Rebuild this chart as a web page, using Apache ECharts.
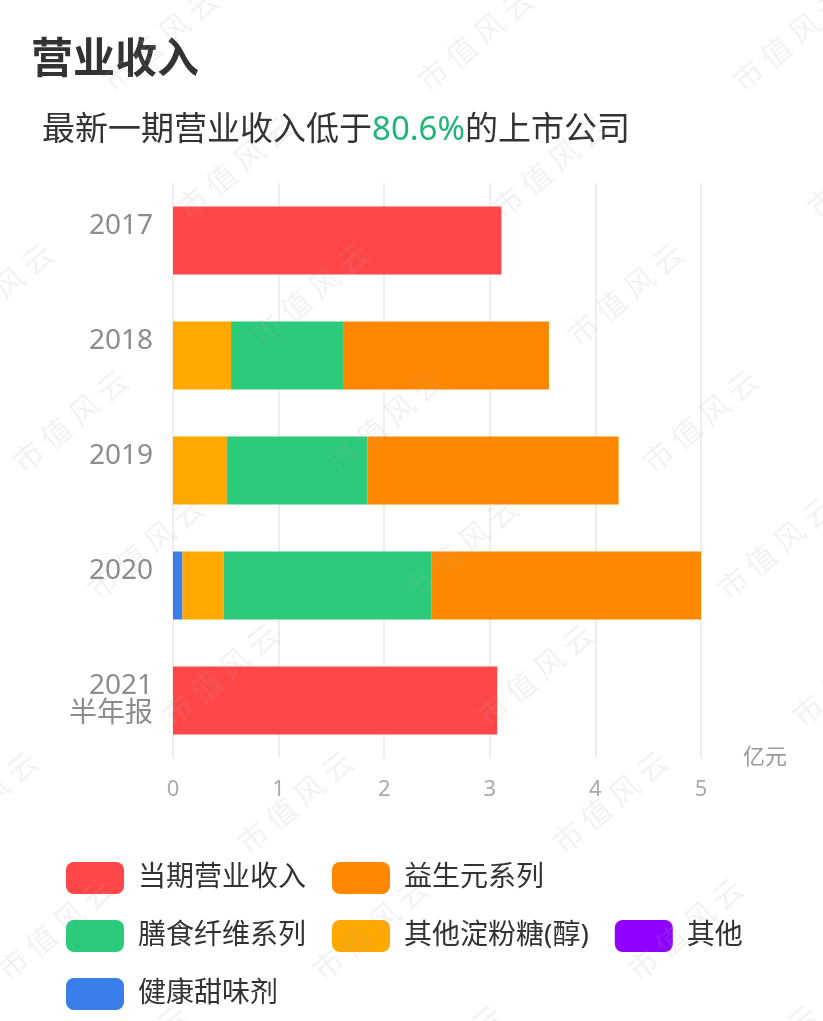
<!DOCTYPE html>
<html>
<head>
<meta charset="utf-8">
<script src="https://cdn.jsdelivr.net/npm/echarts@6/dist/echarts.min.js"></script>
<style>
  html, body { margin: 0; padding: 0; background: #fff; }
  #chart { width: 823px; height: 1021px; }
</style>
</head>
<body>
<div id="chart"></div>
<script>
  // 年份（纵轴分类）
  const years = ['2017', '2018', '2019', '2020', '2021\n半年报']
  // 各系列数值，单位：亿元
  const revenue = [3.11, '-', '-', '-', 3.07]        // 当期营业收入
  const sweetener = ['-', '-', '-', 0.09, '-']       // 健康甜味剂
  const others = ['-', '-', '-', '-', '-']           // 其他
  const starchSugar = ['-', 0.55, 0.51, 0.39, '-']   // 其他淀粉糖(醇)
  const fiber = ['-', 1.06, 1.33, 1.97, '-']         // 膳食纤维系列
  const prebiotic = ['-', 1.95, 2.38, 2.55, '-']     // 益生元系列
  const xTicks = [0, 1, 2, 3, 4, 5]

  const legendOrder = ['当期营业收入', '益生元系列', '膳食纤维系列', '其他淀粉糖(醇)', '其他', '健康甜味剂']
  const font = '"Noto Sans", "Noto Sans CJK SC", sans-serif'

  const chart = echarts.init(document.getElementById('chart'))

  // 水印 “市值风云”
  const marks = []
  for (let row = 0; row < 9; row++) {
    for (let col = -2; col < 4; col++) {
      const x = 160 + 75 * row + 315 * col
      if (x < -120 || x > 950) continue
      marks.push({
        type: 'text',
        x, y: 40 + 127 * row,
        rotation: 40 * Math.PI / 180,
        z: 100,
        silent: true,
        style: {
          text: '市 值 风 云',
          fill: 'rgba(170,170,170,0.15)',
          font: '30px "Noto Sans CJK SC"',
          align: 'center',
          verticalAlign: 'middle'
        }
      })
    }
  }

  const bar = (name, data, color) => ({
    name, data, type: 'bar', stack: 'total', barWidth: 68,
    itemStyle: { color },
    emphasis: { disabled: true }
  })

  chart.setOption({
    animation: false,
    textStyle: { fontFamily: font },
    title: [
      {
        text: '营业收入', left: 31, top: 40, padding: 0,
        textStyle: { fontSize: 42, fontWeight: 'bold', color: '#333', lineHeight: 42, fontFamily: font }
      },
      {
        text: '{a|最新一期营业收入低于}{b|80.6%}{a|的上市公司}', left: 42, top: 114, padding: 0,
        textStyle: {
          fontFamily: font, fontWeight: 'normal',
          rich: {
            a: { fontSize: 33, color: '#333', lineHeight: 34, fontWeight: 'normal', fontFamily: font },
            b: { fontSize: 33, color: '#1db578', lineHeight: 34, fontWeight: 'normal', fontFamily: font }
          }
        }
      }
    ],
    grid: { left: 173, right: 122, top: 183, bottom: 263, containLabel: false },
    legend: {
      data: legendOrder,
      left: 66, top: 862, width: 700, padding: 0,
      itemWidth: 58, itemHeight: 32, itemGap: 26,
      icon: 'path://M8,0 H50 A8,8 0 0 1 58,8 V24 A8,8 0 0 1 50,32 H8 A8,8 0 0 1 0,24 V8 A8,8 0 0 1 8,0 Z',
      selectedMode: false,
      textStyle: { fontSize: 28, color: '#333', padding: [0, 0, 0, 9], fontFamily: font }
    },
    xAxis: {
      type: 'value', min: xTicks[0], max: xTicks[xTicks.length - 1], interval: 1,
      name: '亿元', nameLocation: 'end', nameGap: 42,
      nameTextStyle: { fontSize: 22, color: '#999', verticalAlign: 'middle', fontFamily: font },
      axisLine: { show: false }, axisTick: { show: false },
      axisLabel: { fontSize: 22, color: '#aaa', margin: 21, fontFamily: font },
      splitLine: { show: true, lineStyle: { color: '#e8e8e8', width: 1.5 } }
    },
    yAxis: {
      type: 'category', data: years, inverse: true,
      axisLine: { show: false }, axisTick: { show: false },
      axisLabel: {
        fontSize: 28, color: '#8c8c8c', margin: 20, lineHeight: 28, fontFamily: font,
        padding: [6, 0, 0, 0],
        // 单行标签补一个空行，使其与两行标签一样偏上显示
        formatter: v => v.indexOf('\n') >= 0 ? v : v + '\n '
      }
    },
    series: [
      bar('当期营业收入', revenue, '#ff4749'),
      bar('健康甜味剂', sweetener, '#3a7fe9'),
      bar('其他', others, '#8f00ff'),
      bar('其他淀粉糖(醇)', starchSugar, '#ffa800'),
      bar('膳食纤维系列', fiber, '#2bcb7b'),
      bar('益生元系列', prebiotic, '#ff8800')
    ],
    graphic: marks
  })
</script>
</body>
</html>
